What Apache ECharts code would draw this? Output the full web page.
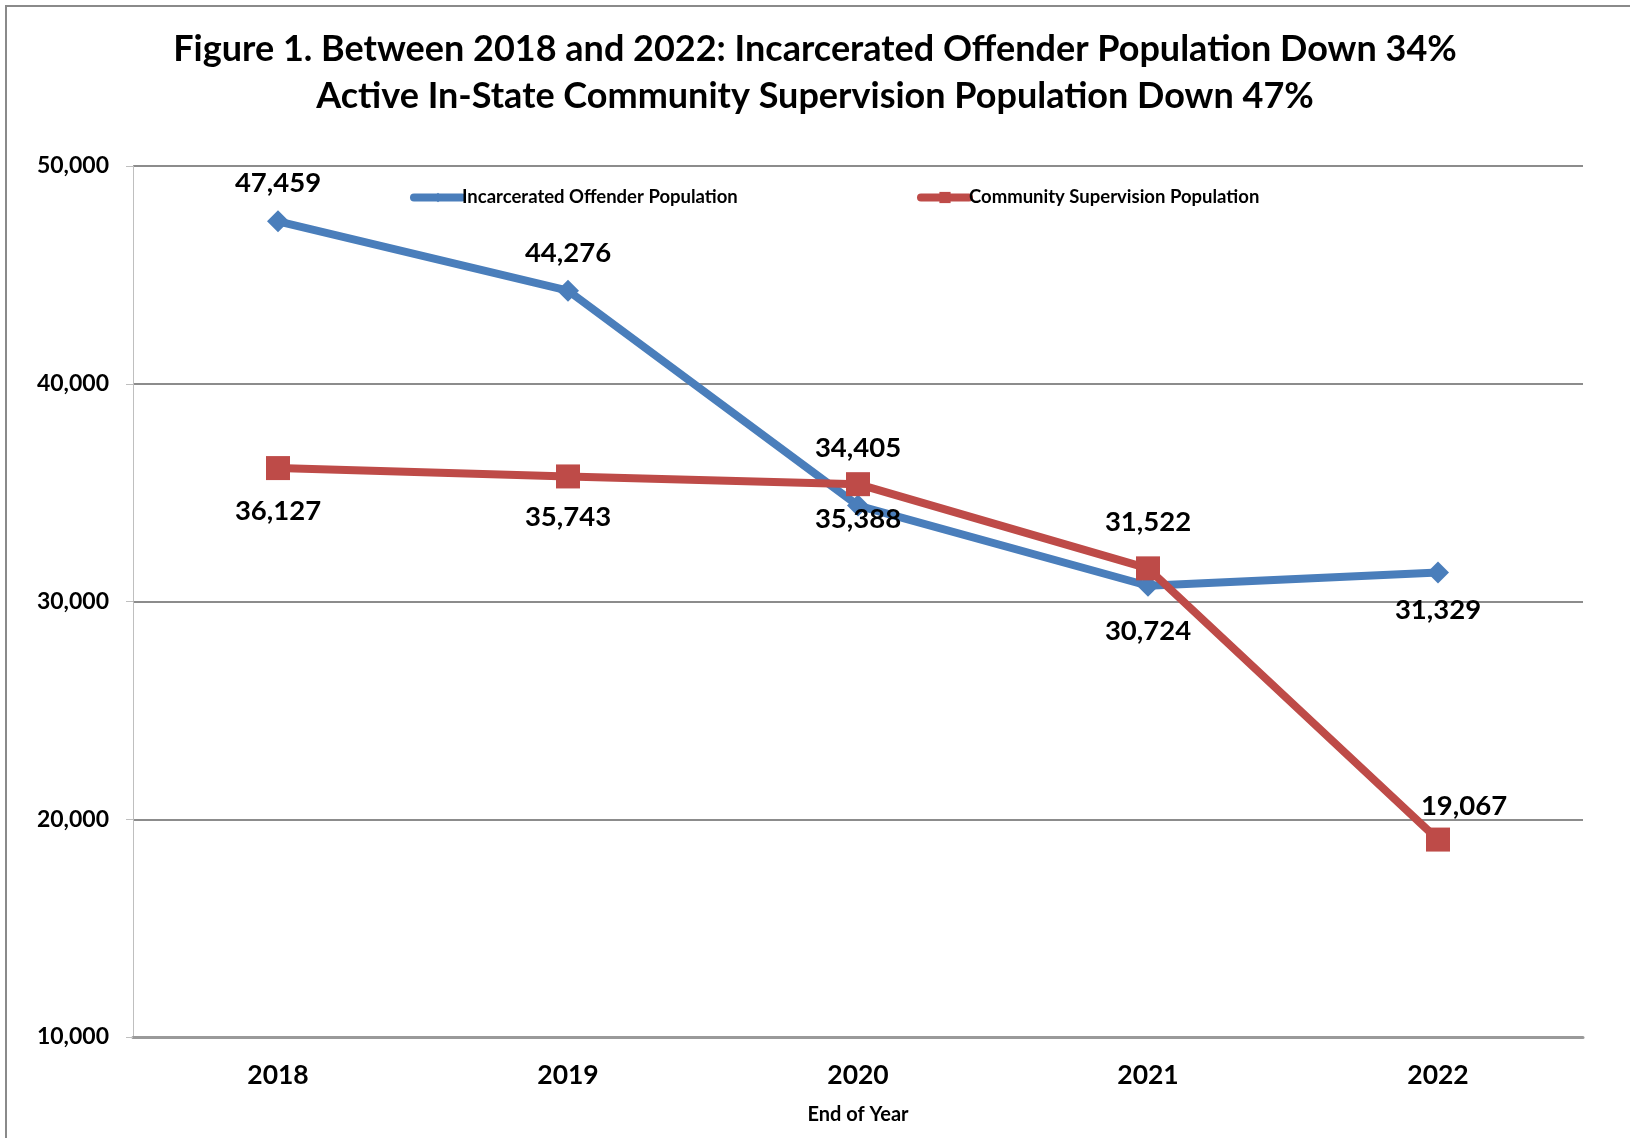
<!DOCTYPE html>
<html>
<head>
<meta charset="utf-8">
<script src="https://cdn.jsdelivr.net/npm/echarts@6/dist/echarts.min.js"></script>
<style>
  html, body { margin: 0; padding: 0; background: #fff; }
  #main { width: 1630px; height: 1138px; }
</style>
</head>
<body>
<div id="main"></div>
<script>
var years = ['2018', '2019', '2020', '2021', '2022'];
var incarcerated = [47459, 44276, 34405, 30724, 31329];
var supervision = [36127, 35743, 35388, 31522, 19067];
var yTicks = [10000, 20000, 30000, 40000, 50000];

// label offsets from each marker centre (the original staggers them)
var blueLabelOffsets = [[0, -38], [0, -38], [0, -57], [0, 45], [0, 38]];
var redLabelOffsets = [[0, 43], [0, 41], [0, 35], [0, -46], [26, -33]];

var FONT = 'Lato';
var fmt = function (v) { return v.toLocaleString('en-US'); };

function withLabels(values, offsets) {
  return values.map(function (v, i) {
    return { value: v, label: { offset: offsets[i] } };
  });
}

var legendText = { fontFamily: FONT, fontWeight: 'bold', fontSize: 18.5, color: '#000', padding: [0, 0, 0, -5] };

var option = {
  animation: false,
  backgroundColor: '#fff',
  graphic: [{
    type: 'rect',
    shape: { x: 6, y: 6, width: 1700, height: 1200 },
    style: { fill: 'none', stroke: '#8a8a8a', lineWidth: 2 },
    silent: true
  }],
  title: {
    text: 'Figure 1. Between 2018 and 2022: Incarcerated Offender Population Down 34%\nActive In-State Community Supervision Population Down 47%',
    left: 'center',
    top: 21,
    textStyle: {
      fontFamily: FONT,
      fontWeight: 'bold',
      fontSize: 36,
      lineHeight: 47,
      color: '#000'
    }
  },
  legend: [{
    data: ['Incarcerated Offender Population'],
    left: 405,
    top: 183,
    itemWidth: 48,
    itemHeight: 12,
    itemGap: 0,
    lineStyle: { width: 8, cap: 'round' },
    textStyle: legendText
  }, {
    data: ['Community Supervision Population'],
    left: 912,
    top: 183,
    itemWidth: 48,
    itemHeight: 14,
    itemGap: 0,
    lineStyle: { width: 8, cap: 'round' },
    textStyle: legendText
  }],
  grid: { left: 133, right: 47, top: 166, bottom: 101 },
  xAxis: {
    type: 'category',
    data: years,
    name: 'End of Year',
    nameLocation: 'middle',
    nameGap: 68,
    nameTextStyle: { fontFamily: FONT, fontWeight: 'bold', fontSize: 20, color: '#000' },
    axisLine: { lineStyle: { color: '#9a9a9a', width: 3 } },
    axisTick: { length: 10, lineStyle: { color: '#9a9a9a', width: 1 } },
    axisLabel: { fontFamily: FONT, fontWeight: 'bold', fontSize: 26.5, color: '#000', margin: 25 }
  },
  yAxis: {
    type: 'value',
    min: yTicks[0],
    max: yTicks[yTicks.length - 1],
    interval: yTicks[1] - yTicks[0],
    axisLine: { show: true, lineStyle: { color: '#bfbfbf', width: 1 } },
    axisTick: { show: true, length: 7, lineStyle: { color: '#bfbfbf' } },
    axisLabel: {
      fontFamily: FONT, fontWeight: 'bold', fontSize: 23, color: '#000', margin: 24,
      formatter: fmt
    },
    splitLine: { lineStyle: { color: '#8c8c8c', width: 2 } }
  },
  series: [{
    name: 'Incarcerated Offender Population',
    type: 'line',
    data: withLabels(incarcerated, blueLabelOffsets),
    symbol: 'diamond',
    symbolSize: 22,
    lineStyle: { width: 8, color: '#4a7ebb' },
    itemStyle: { color: '#4a7ebb' },
    label: {
      show: true,
      position: 'inside',
      fontFamily: FONT, fontWeight: 'bold', fontSize: 27.5, color: '#000',
      formatter: function (p) { return fmt(p.value); }
    },
    z: 2
  }, {
    name: 'Community Supervision Population',
    type: 'line',
    data: withLabels(supervision, redLabelOffsets),
    symbol: 'rect',
    symbolSize: 24,
    lineStyle: { width: 8, color: '#be4b48' },
    itemStyle: { color: '#be4b48' },
    label: {
      show: true,
      position: 'inside',
      fontFamily: FONT, fontWeight: 'bold', fontSize: 27.5, color: '#000',
      formatter: function (p) { return fmt(p.value); }
    },
    z: 3
  }]
};

var myChart = echarts.init(document.getElementById('main'));
myChart.setOption(option);
</script>
</body>
</html>
